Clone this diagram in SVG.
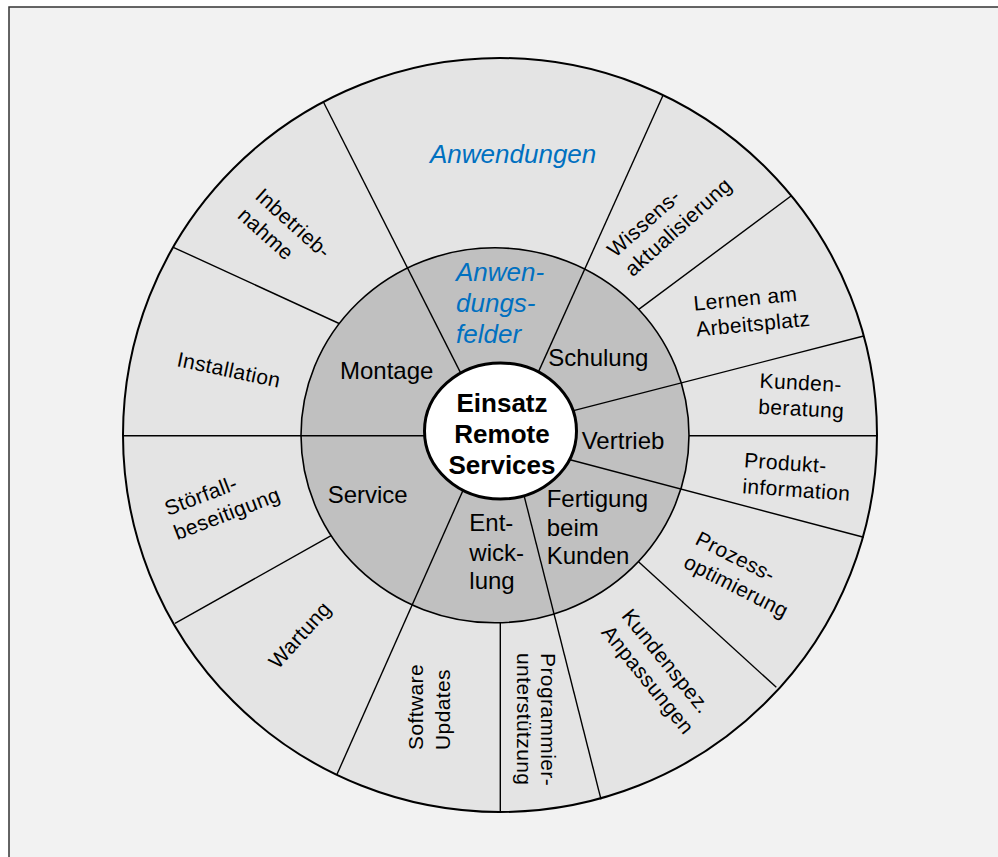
<svg xmlns="http://www.w3.org/2000/svg" width="998" height="857" viewBox="0 0 998 857">
  <style>
    text { font-family: "Liberation Sans", Arial, sans-serif; fill: #000; }
    .outer { font-size: 21px; letter-spacing: 0.4px; }
    .mid { font-size: 24px; }
    .blue { font-size: 26px; font-style: italic; fill: #0070C0; }
    .center { font-size: 26px; font-weight: bold; text-anchor: middle; }
    .ln { stroke: #000; stroke-width: 1.4; fill: none; }
  </style>
  <rect x="0" y="0" width="998" height="857" fill="#ffffff"/>
  <rect id="frame" x="9" y="7" width="1010" height="870" fill="#f2f2f2" stroke="#333333" stroke-width="1.5"/>

  <g id="outer-ring">
    <circle cx="500" cy="435" r="377" fill="#e4e4e4" stroke="#000" stroke-width="2"/>
  </g>

  <g id="connectors-outer">
    <line class="ln" x1="877" y1="435.7" x2="680" y2="435.7"/>
    <line class="ln" x1="173.3" y1="247.3" x2="350" y2="328.5"/>
    <line class="ln" x1="791" y1="196" x2="630" y2="315.9"/>
    <line class="ln" x1="776.3" y1="687.3" x2="630" y2="553.9"/>
    <line class="ln" x1="500.3" y1="811.5" x2="500.3" y2="615"/>
    <line class="ln" x1="175" y1="623.3" x2="340" y2="530.7"/>
  </g>

  <g id="middle-ring">
    <ellipse cx="495" cy="435.3" rx="194" ry="187.5" fill="#c0c0c0" stroke="#000" stroke-width="1.6"/>
  </g>

  <g id="connectors">
    <line class="ln" x1="123" y1="435.7" x2="440" y2="435.7"/>
    <line class="ln" x1="323.3" y1="101.7" x2="470" y2="391.4"/>
    <line class="ln" x1="662.7" y1="96" x2="530" y2="390.6"/>
    <line class="ln" x1="863.7" y1="336" x2="556" y2="415.1"/>
    <line class="ln" x1="863.7" y1="537.3" x2="553" y2="455.3"/>
    <line class="ln" x1="601" y1="799.3" x2="520" y2="479.6"/>
    <line class="ln" x1="336.7" y1="775" x2="470" y2="474.6"/>
  </g>

  <g id="center">
    <ellipse cx="500.5" cy="431" rx="76" ry="68" fill="#ffffff" stroke="#000" stroke-width="3"/>
    <text class="center" x="502" y="411.7">Einsatz</text>
    <text class="center" x="502" y="443">Remote</text>
    <text class="center" x="502" y="474">Services</text>
  </g>

  <g id="anwendungsfelder">
    <text class="blue" x="456" y="281">Anwen-</text>
    <text class="blue" x="456" y="312">dungs-</text>
    <text class="blue" x="456" y="343">felder</text>
  </g>
  <g id="anwendungen">
    <text class="blue" x="430" y="163">Anwendungen</text>
  </g>

  <g id="montage"><text class="mid" x="340" y="379">Montage</text></g>
  <g id="schulung"><text class="mid" x="548.3" y="365.7">Schulung</text></g>
  <g id="vertrieb"><text class="mid" x="581.7" y="449.3">Vertrieb</text></g>
  <g id="service"><text class="mid" x="327.7" y="502.7">Service</text></g>
  <g id="entwicklung">
    <text class="mid" x="469.3" y="531">Ent-</text>
    <text class="mid" x="469.3" y="560.5">wick-</text>
    <text class="mid" x="469.3" y="589">lung</text>
  </g>
  <g id="fertigung">
    <text class="mid" x="546.7" y="507.3">Fertigung</text>
    <text class="mid" x="546.7" y="536">beim</text>
    <text class="mid" x="546.7" y="564">Kunden</text>
  </g>

  <g id="inbetriebnahme" transform="translate(254 197.7) rotate(42)">
    <text class="outer" x="0" y="0">Inbetrieb-</text>
    <text class="outer" x="0" y="26">nahme</text>
  </g>
  <g id="installation" transform="translate(176 366) rotate(12)">
    <text class="outer" x="0" y="0">Installation</text>
  </g>
  <g id="stoerfall" transform="translate(168 516) rotate(-21)">
    <text class="outer" x="0" y="0">Störfall-</text>
    <text class="outer" x="0" y="26">beseitigung</text>
  </g>
  <g id="wartung" transform="translate(300 635) rotate(-48)">
    <text class="outer" x="0" y="7" text-anchor="middle">Wartung</text>
  </g>
  <g id="software" transform="translate(422.7 750) rotate(-90)">
    <text class="outer" x="0" y="0">Software</text>
    <text class="outer" x="0" y="27">Updates</text>
  </g>
  <g id="programmier" transform="translate(541.3 653) rotate(90)">
    <text class="outer" x="0" y="0">Programmier-</text>
    <text class="outer" x="0" y="24">unterstützung</text>
  </g>
  <g id="kundenspez" transform="translate(620.8 616.3) rotate(51)">
    <text class="outer" x="0" y="0">Kundenspez.</text>
    <text class="outer" x="0" y="26">Anpassungen</text>
  </g>
  <g id="prozess" transform="translate(694 543.5) rotate(27)">
    <text class="outer" x="0" y="0">Prozess-</text>
    <text class="outer" x="0" y="26">optimierung</text>
  </g>
  <g id="produkt" transform="translate(743.7 467.3) rotate(4)">
    <text class="outer" x="0" y="0">Produkt-</text>
    <text class="outer" x="0" y="26">information</text>
  </g>
  <g id="kundenberatung" transform="translate(759.3 387.7) rotate(3)">
    <text class="outer" x="0" y="0">Kunden-</text>
    <text class="outer" x="0" y="26">beratung</text>
  </g>
  <g id="lernen" transform="translate(694.3 310.7) rotate(-5.5)">
    <text class="outer" x="0" y="0">Lernen am</text>
    <text class="outer" x="0" y="26">Arbeitsplatz</text>
  </g>
  <g id="wissens" transform="translate(615.3 258.3) rotate(-42)">
    <text class="outer" x="0" y="0">Wissens-</text>
    <text class="outer" x="0" y="26">aktualisierung</text>
  </g>
</svg>
